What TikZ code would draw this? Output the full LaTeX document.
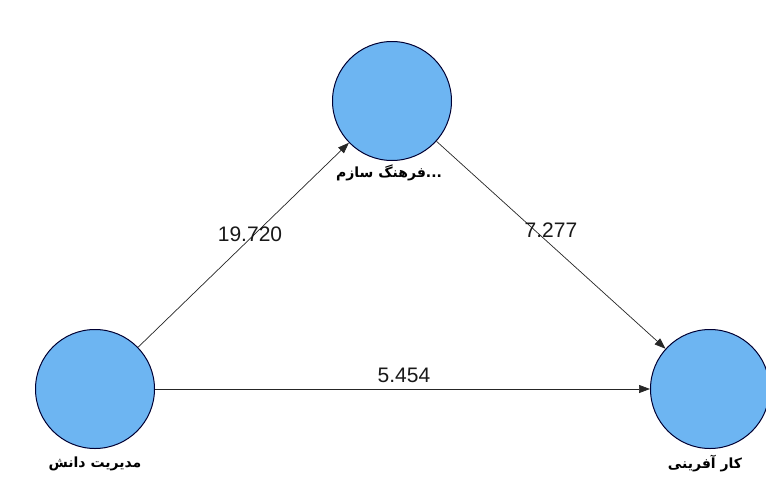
\documentclass[tikz,border=0pt]{standalone}
\usepackage{fontspec}
\setmainfont{Liberation Sans}
\newfontfamily\arabicfont[Script=Arabic]{DejaVu Sans}
\TeXXeTstate=1
\usetikzlibrary{arrows.meta}
\newcommand{\rw}[1]{\beginR #1\endR}
\begin{document}
\begin{tikzpicture}[x=1pt,y=-1pt,
  latent/.style={circle,draw=black!80!blue,line width=1pt,fill=lvblue,minimum size=119pt,inner sep=0pt},
  path/.style={draw=black!85,line width=0.7pt,-{Triangle[length=11pt,width=8pt]}},
  lvlabel/.style={font=\arabicfont\bfseries\fontsize{14}{16}\selectfont},
  coef/.style={font=\fontsize{21}{23}\selectfont,text=black!90}]
\definecolor{lvblue}{HTML}{6DB5F2}
\useasboundingbox (0,0) rectangle (766,488);
\fill[white] (0,0) rectangle (766,488);
\node[latent] (org) at (392,101) {};
\node[latent] (km) at (95,389) {};
\node[latent] (ent) at (710,389) {};
\node[lvlabel] (orgl) at (389,173) {\rw{فرهنگ سازم}...};
\node[lvlabel] (kml) at (95,464) {\rw{مدیریت دانش}};
\node[lvlabel] (entl) at (705,464) {\rw{کار آفرینی}};
\draw[path] (km) -- (org);
\draw[path] (org) -- (ent);
\draw[path] (km) -- (ent);
\node[coef] (c1) at (250,234) {19.720};
\node[coef] (c2) at (551,230) {7.277};
\node[coef] (c3) at (404,375) {5.454};
\end{tikzpicture}
\end{document}
